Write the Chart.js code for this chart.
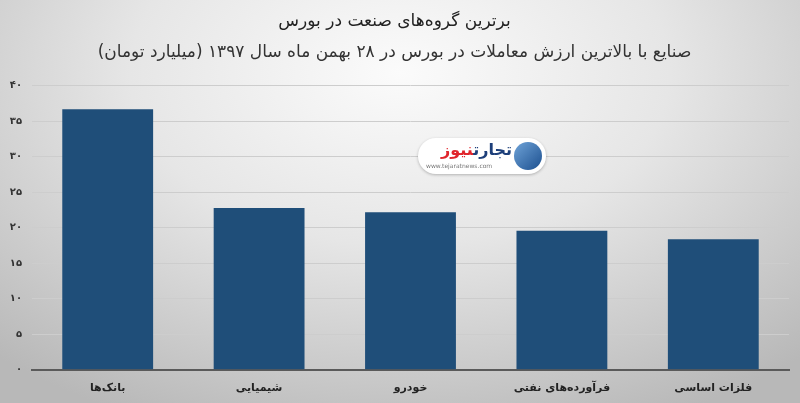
<!DOCTYPE html>
<html lang="fa">
<head>
<meta charset="utf-8">
<script src="https://cdn.jsdelivr.net/npm/chart.js@4.4.1/dist/chart.umd.min.js"></script>
<style>
    html, body {
        margin: 0;
        padding: 0;
    }
    body {
        width: 800px;
        height: 403px;
        overflow: hidden;
        background: radial-gradient(ellipse 75% 95% at 50% 18%, #fbfbfb 0%, #e6e6e6 45%, #c9c9c9 80%, #b8b8b8 100%);
        position: relative;
    }
    #wrap {
        position: absolute;
        left: 0;
        top: 0;
        width: 800px;
        height: 403px;
    }
    /* watermark */
    .logo {
        position: absolute;
        left: 418px;
        top: 138px;
        width: 128px;
        height: 36px;
        background: #fff;
        border-radius: 18px;
        box-shadow: 0 1px 3px rgba(0,0,0,0.25);
        font-family: "DejaVu Sans", sans-serif;
    }
    .logo .name {
        position: absolute;
        right: 34px;
        top: 2px;
        font-size: 16px;
        font-weight: bold;
        direction: rtl;
        color: #1d3f7a;
    }
    .logo .name span { color: #e0242b; }
    .logo .url {
        position: absolute;
        left: 8px;
        top: 24px;
        font-size: 6px;
        color: #777;
    }
    .logo .icon {
        position: absolute;
        right: 4px;
        top: 4px;
        width: 28px;
        height: 28px;
        border-radius: 50%;
        background: linear-gradient(135deg, #6fa3d8, #1c4f8f);
    }
</style>
</head>
<body>
<div id="wrap"><canvas id="chart"></canvas></div>
<div class="logo">
    <div class="name">تجارت<span>نیوز</span></div>
    <div class="url">www.tejaratnews.com</div>
    <div class="icon"></div>
</div>
<script>
// data
const categories = ['بانک‌ها', 'شیمیایی', 'خودرو', 'فرآورده‌های نفتی', 'فلزات اساسی'];
const values = [36.7, 22.8, 22.2, 19.6, 18.4];
const tickValues = [0, 5, 10, 15, 20, 25, 30, 35, 40];
const persianDigits = ['۰', '۱', '۲', '۳', '۴', '۵', '۶', '۷', '۸', '۹'];

const titleText = 'برترین گروه‌های صنعت در بورس';
const subtitleText = 'صنایع با بالاترین ارزش معاملات در بورس در ۲۸ بهمن ماه سال ۱۳۹۷ (میلیارد تومان)';

function toPersian(n) {
    return String(n).replace(/[0-9]/g, d => persianDigits[+d]);
}

const ctx = document.getElementById('chart').getContext('2d');
new Chart(ctx, {
    type: 'bar',
    data: {
        labels: categories,
        datasets: [{
            data: values,
            backgroundColor: '#1f4e79',
            barPercentage: 0.6,
            categoryPercentage: 1.0
        }]
    },
    options: {
        responsive: true,
        maintainAspectRatio: false,
        animation: false,
        layout: {
            padding: { left: 0, right: 11, top: 0, bottom: 4 }
        },
        plugins: {
            legend: { display: false },
            tooltip: { enabled: false },
            title: {
                display: true,
                text: titleText,
                color: '#222',
                font: { family: 'DejaVu Sans', size: 17, weight: 'normal' },
                padding: { top: 11, bottom: 6 }
            },
            subtitle: {
                display: true,
                text: subtitleText,
                color: '#333',
                font: { family: 'DejaVu Sans', size: 17, weight: 'normal' },
                padding: { top: 5, bottom: 23 }
            }
        },
        scales: {
            x: {
                grid: { display: false },
                border: { color: '#5a5a5a', width: 2 },
                ticks: {
                    color: '#222',
                    font: { family: 'DejaVu Sans', size: 11, weight: 'bold' },
                    padding: 4
                }
            },
            y: {
                min: 0,
                max: 40,
                afterBuildTicks: function(scale) {
                    scale.ticks = tickValues.map(v => ({ value: v }));
                },
                afterFit: function(scale) {
                    scale.width = 32;
                },
                grid: {
                    color: '#cdcdcd',
                    lineWidth: 1,
                    drawTicks: false
                },
                border: { display: false },
                ticks: {
                    color: '#333',
                    font: { family: 'DejaVu Sans', size: 10, weight: 'bold' },
                    padding: 10,
                    callback: function(v) {
                        return toPersian(v);
                    }
                }
            }
        }
    }
});
</script>
</body>
</html>
